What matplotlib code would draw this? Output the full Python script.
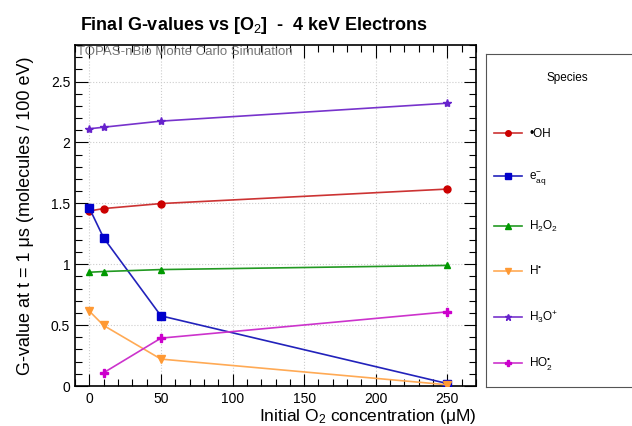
import matplotlib
matplotlib.use("Agg")
import matplotlib.pyplot as plt
from matplotlib.lines import Line2D
from matplotlib.ticker import MultipleLocator

plt.rcParams['font.family'] = ['Liberation Sans', 'DejaVu Sans']
plt.rcParams['mathtext.fontset'] = 'custom'
plt.rcParams['mathtext.rm'] = 'Liberation Sans'
plt.rcParams['mathtext.it'] = 'Liberation Sans'
plt.rcParams['mathtext.bf'] = 'Liberation Sans:bold'

# Data
o2_conc = [0, 10, 50, 250]
g_oh = [1.437, 1.457, 1.498, 1.617]
g_eaq = [1.461, 1.216, 0.576, 0.02]
g_h2o2 = [0.934, 0.940, 0.956, 0.990]
g_h = [0.615, 0.497, 0.221, 0.01]
g_h3o = [2.112, 2.125, 2.175, 2.322]
o2_conc_ho2 = [10, 50, 250]
g_ho2 = [0.109, 0.393, 0.609]

species_labels = ['•OH', r'e$^{-}_{aq}$', r'H$_2$O$_2$', r'H$^{•}$',
                  r'H$_3$O$^{+}$', r'HO$_2^{•}$']

fig = plt.figure(figsize=(6.32, 4.26), dpi=100)
ax = fig.add_axes([75/632, 1-386/426, (476-75)/632, (386-45)/426])

series = [
    (o2_conc, g_oh, '#cc0000', '#cc3333', 'o', 5),
    (o2_conc, g_eaq, '#0000cc', '#2222bb', 's', 5.5),
    (o2_conc, g_h2o2, '#009900', '#229922', '^', 5),
    (o2_conc, g_h, '#ff9933', '#ffaa55', 'v', 5.5),
    (o2_conc, g_h3o, '#6622cc', '#7733cc', '*', 6),
    (o2_conc_ho2, g_ho2, '#cc00cc', '#cc33cc', 'P', 5.5),
]
handles = []
for (xs, ys, mc, lc, mk, ms), lab in zip(series, species_labels):
    ax.plot(xs, ys, color=lc, lw=1.2, marker=mk, ms=ms, mfc=mc, mec=mc, zorder=3)
    handles.append(Line2D([], [], color=lc, lw=1.2, marker=mk, ms=ms-1, mfc=mc, mec=mc))

ax.set_xlim(-10, 270)
ax.set_ylim(0, 2.8)
ax.xaxis.set_major_locator(MultipleLocator(50))
ax.xaxis.set_minor_locator(MultipleLocator(10))
ax.yaxis.set_major_locator(MultipleLocator(0.5))
ax.yaxis.set_minor_locator(MultipleLocator(0.1))
ax.yaxis.set_major_formatter(matplotlib.ticker.FuncFormatter(lambda v, p: ('%g' % v)))
ax.tick_params(which='both', direction='in', top=True, right=True, labelsize=10)
ax.tick_params(which='major', length=9, width=0.8)
ax.tick_params(which='minor', length=5, width=0.8)
ax.tick_params(axis='x', pad=4)
ax.grid(True, which='major', ls=':', color='#cccccc', lw=0.8)
for s in ax.spines.values():
    s.set_linewidth(1.2)

ax.set_xlabel('Initial O$_2$ concentration (μM)', fontsize=12.5, loc='right', labelpad=1)
ax.set_ylabel('G-value at t = 1 μs (molecules / 100 eV)', fontsize=13, labelpad=12)

fig.text(80/632, 1-25/426, r'Final G-values vs [O$_2$]  -  4 keV Electrons',
         fontsize=13, fontweight='bold', va='center', ha='left')
ax.text(0.005, 0.998, 'TOPAS-nBio Monte Carlo Simulation', transform=ax.transAxes,
        fontsize=9.5, color='#777777', va='top', ha='left')

lax = fig.add_axes([486/632, 1-387/426, 150/632, (387-54)/426])
lax.set_xticks([]); lax.set_yticks([])
for s in lax.spines.values():
    s.set_linewidth(0.8)
    s.set_color('#555555')
lax.text(0.54, 0.928, 'Species', transform=lax.transAxes, ha='center', va='center', fontsize=8.5)
leg = lax.legend(handles, species_labels, loc='upper left', bbox_to_anchor=(-0.02, 0.81),
                 frameon=False, fontsize=8.5, labelspacing=2.6, handlelength=2.4,
                 handletextpad=0.6)

fig.savefig('out.png', dpi=100)
